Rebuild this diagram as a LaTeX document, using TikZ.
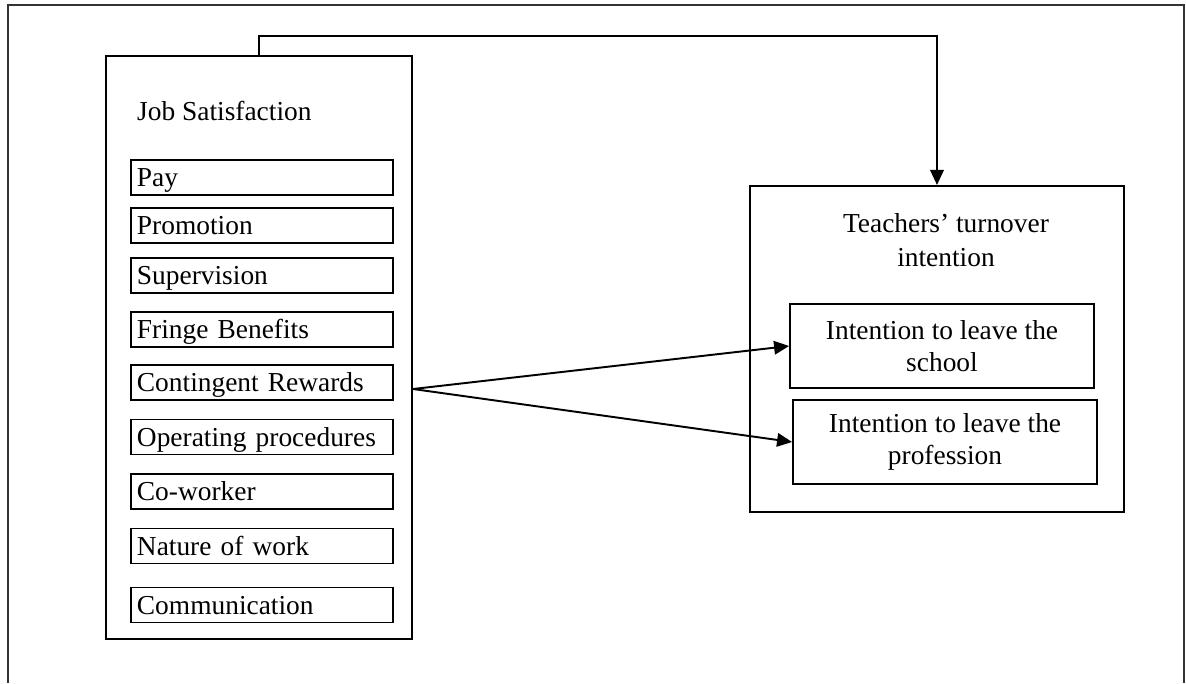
\documentclass[tikz,border=0pt]{standalone}
\usepackage{fontspec}
\setmainfont{Liberation Serif}
\usepackage{tikz}
\usetikzlibrary{
  arrows.meta,
  positioning,
  calc
}
\tikzset{
  framebox/.style={
    rectangle, draw=black, line width=1.2pt, inner sep=0pt
  },
  factorbox/.style={
    rectangle, draw=black, line width=1.1pt, anchor=west,
    text width=5cm, inner xsep=0.12cm, minimum height=0.7cm,
    text height=0.36cm, text depth=0cm, align=left
  },
  intentbox/.style={
    rectangle, draw=black, line width=1.1pt,
    minimum width=6.08cm, minimum height=1.68cm, align=center,
    font=\fontsize{15.6}{18}\selectfont
  },
  heading/.style={
    align=center, font=\fontsize{15.6}{19}\selectfont
  },
  arrowstyle/.style={
    -{Triangle[length=0.3cm, width=0.27cm]}, line width=1.1pt, color=black
  },
}

\begin{document}
\begin{tikzpicture}[x=0.02cm, y=-0.02cm, every node/.style={font=\fontsize{15.6}{18}\selectfont}]
  \useasboundingbox (0,0) rectangle (1186,683);

  % outer frame, open at the bottom
  \draw[line width=1.1pt, color=black!80] (8,683) -- (8,5) -- (1184,5) -- (1184,683);

  % job satisfaction side
  \node[framebox, minimum width=6.12cm, minimum height=11.66cm] (js) at (259,347.5) {};
  \node[anchor=base west] (jstitle) at (131,120) {Job Satisfaction};

  \node[factorbox] (pay)    at (130,177.5) {Pay};
  \node[factorbox] (promo)  at (130,225.5) {Promotion};
  \node[factorbox] (superv) at (130,275.5) {Supervision};
  \node[factorbox] (fringe) at (130,329.5) {Fringe Benefits};
  \node[factorbox] (contin) at (130,382.5) {Contingent Rewards};
  \node[factorbox] (operat) at (130,437)   {Operating procedures};
  \node[factorbox] (cowork) at (130,491.5) {Co-worker};
  \node[factorbox] (nature) at (130,546)   {Nature of work};
  \node[factorbox] (commun) at (130,605)   {Communication};

  % turnover intention side
  \node[framebox, minimum width=7.48cm, minimum height=6.52cm] (tti) at (937,349) {};
  \node[heading] (ttititle) at (946,240) {Teachers’ turnover\\intention};
  \node[intentbox] (school) at (942,346) {Intention to leave the\\school};
  \node[intentbox] (prof)   at (945,442) {Intention to leave the\\profession};

  % connectors
  \coordinate (topline) at (260,36);
  \coordinate (fork) at (js.east |- 0,389);

  \draw[arrowstyle] (js.north) -- (js.north |- topline) -| (tti.north);
  \draw[arrowstyle] (fork) -- (school.west);
  \draw[arrowstyle] (fork) -- (prof.west);
\end{tikzpicture}
\end{document}
